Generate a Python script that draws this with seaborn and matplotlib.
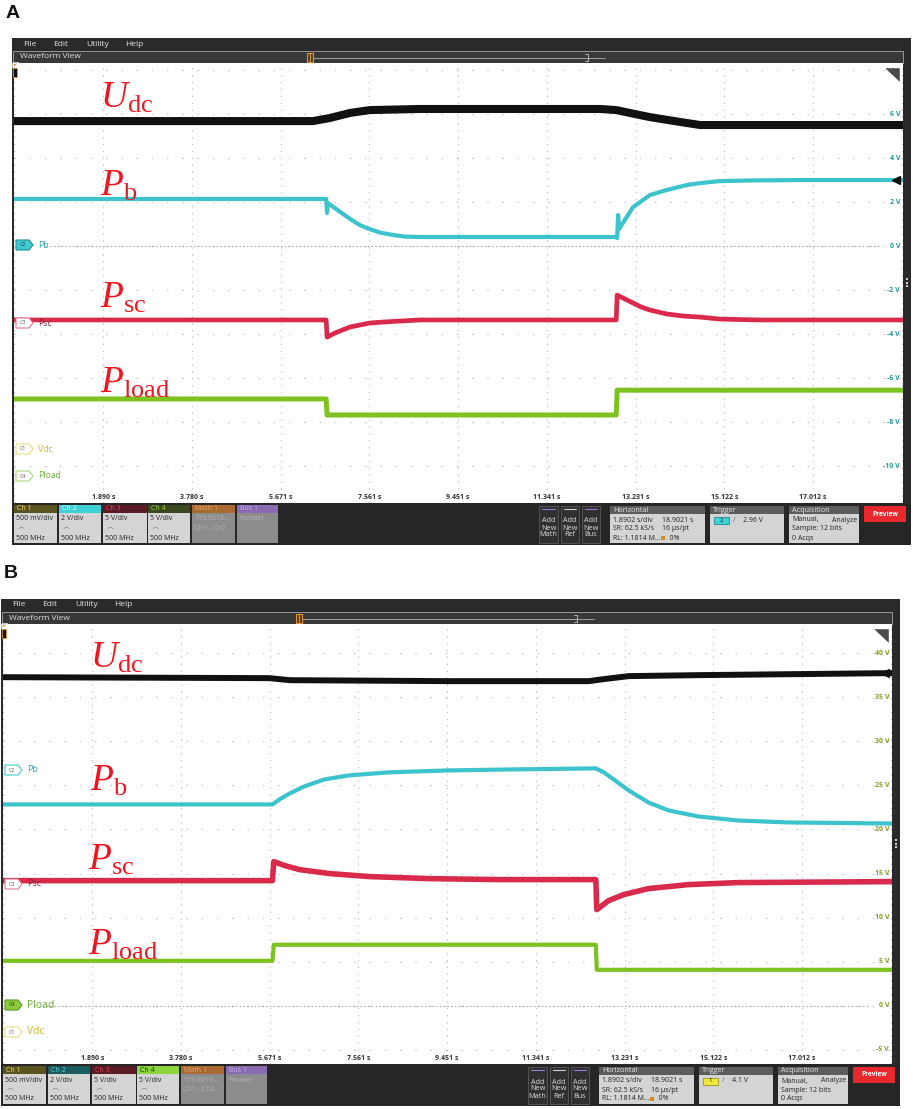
import matplotlib
matplotlib.use("Agg")
import matplotlib.pyplot as plt
import matplotlib.transforms as mtransforms
from matplotlib.patches import Rectangle, Polygon
import seaborn as sns

# ---- values ----
# time in s, values in screen volts of the channel whose scale is on the right
TDIV = 1.8902
time_labels = ['1.890 s', '3.780 s', '5.671 s', '7.561 s', '9.451 s',
               '11.341 s', '13.231 s', '15.122 s', '17.012 s']
a_volt_ticks = [6, 4, 2, 0, -2, -4, -6, -8, -10]
b_volt_ticks = [40, 35, 30, 25, 20, 15, 10, 5, 0, -5]

# panel A
a_udc_t = [0.0, 5.02, 6.36, 6.72, 7.15, 7.57, 8.64, 12.48, 12.82, 13.22, 13.54, 14.18, 14.61, 18.93]
a_udc_v = [5.68, 5.68, 5.68, 5.82, 6.05, 6.18, 6.23, 6.23, 6.18, 6.00, 5.86, 5.64, 5.50, 5.50]
a_pb_t = [0.0, 6.64, 6.66, 6.68, 6.94, 7.15, 7.36, 7.57, 7.79, 8.07, 8.32, 8.64, 12.82, 12.84, 12.86,
          12.88, 13.18, 13.33, 13.54, 13.71, 13.90, 14.07, 14.24, 14.39, 14.61, 14.82, 15.03, 15.67,
          16.74, 18.93]
a_pb_v = [2.14, 2.14, 1.50, 1.95, 1.55, 1.23, 0.95, 0.77, 0.61, 0.50, 0.43, 0.41, 0.41, 0.36, 1.41,
          0.77, 1.77, 2.00, 2.32, 2.43, 2.55, 2.64, 2.73, 2.80, 2.86, 2.91, 2.95, 2.98,
          3.00, 3.00]
a_psc_t = [0.0, 6.64, 6.66, 6.83, 7.15, 7.36, 7.57, 7.89, 8.21, 8.64, 12.82, 12.84, 13.01, 13.18,
           13.35, 13.54, 13.90, 14.24, 14.61, 15.03, 15.88, 18.93]
a_psc_v = [-3.36, -3.36, -4.14, -3.95, -3.68, -3.59, -3.50, -3.45, -3.41, -3.36, -3.36, -2.23, -2.41,
           -2.59, -2.77, -2.91, -3.09, -3.18, -3.23, -3.32, -3.36, -3.36]
a_pload_t = [0.0, 6.64, 6.66, 12.82, 12.84, 18.93]
a_pload_v = [-6.95, -6.95, -7.68, -7.68, -6.55, -6.55]

# panel B
b_udc_t = [0.0, 5.67, 6.10, 9.49, 12.47, 12.79, 13.32, 14.80, 18.93]
b_udc_v = [37.27, 37.16, 36.93, 36.82, 36.82, 37.05, 37.39, 37.50, 37.73]
b_pb_t = [0.0, 5.73, 5.88, 6.10, 6.41, 6.84, 7.37, 8.22, 9.49, 10.98, 12.62, 12.79, 13.00, 13.32,
          13.74, 14.17, 14.80, 15.65, 16.72, 18.93]
b_pb_v = [22.84, 22.84, 23.41, 24.09, 24.89, 25.68, 26.14, 26.48, 26.70, 26.82, 26.93, 26.48, 25.68,
          24.43, 23.07, 22.16, 21.48, 21.02, 20.80, 20.68]
b_psc_t = [0.0, 5.73, 5.76, 5.99, 6.31, 6.95, 7.80, 9.07, 10.56, 12.62, 12.64, 12.89, 13.21, 13.74,
           14.59, 15.65, 18.93]
b_psc_v = [14.20, 14.20, 16.36, 15.91, 15.45, 15.00, 14.66, 14.43, 14.32, 14.32, 10.91, 11.93, 12.61,
           13.30, 13.75, 13.98, 14.09]
b_pload_t = [0.0, 5.73, 5.76, 12.62, 12.64, 18.93]
b_pload_v = [5.11, 5.11, 6.93, 6.93, 4.09, 4.09]

ch_body = [['500 mV/div', r'$\frown$', '500 MHz'], ['2 V/div', r'$\frown$', '500 MHz'],
           ['5 V/div', r'$\frown$', '500 MHz'], ['5 V/div', r'$\frown$', '500 MHz'],
           ['119.9219...', 'Ch1 - Ch2'], ['Parallel']]

sns.set_style('white')
plt.rcParams['font.family'] = ['Open Sans', 'DejaVu Sans']
plt.rcParams['mathtext.fontset'] = 'custom'
plt.rcParams['mathtext.rm'] = 'Liberation Serif'
plt.rcParams['mathtext.it'] = 'Liberation Serif:italic'

W, H = 913, 1109
fig = plt.figure(figsize=(W / 100, H / 100), dpi=100)
bg = fig.add_axes([0, 0, 1, 1], zorder=0, label='bg')
bg.set_xlim(0, W); bg.set_ylim(H, 0); bg.axis('off')
fg = fig.add_axes([0, 0, 1, 1], zorder=5, label='fg')
fg.set_xlim(0, W); fg.set_ylim(H, 0); fg.axis('off')


def rect(ax, x0, y0, x1, y1, fc, ec='none', lw=0.0, z=1):
    ax.add_patch(Rectangle((x0, y0), x1 - x0, y1 - y0, facecolor=fc,
                           edgecolor=ec, linewidth=lw, zorder=z))


def txt(ax, x, y, s, size=5.0, color='#222222', ha='left', va='center', **kw):
    ax.text(x, y, s, fontsize=size, color=color, ha=ha, va=va, **kw)


def badge(x, y, name, label, fc, ec, tc, lc, lsize):
    pts = [(x, y - 5), (x + 13, y - 5), (x + 17, y), (x + 13, y + 5), (x, y + 5)]
    fg.add_patch(Polygon(pts, closed=True, facecolor=fc, edgecolor=ec, linewidth=0.8, zorder=6))
    txt(fg, x + 6.5, y, name, 3.8, tc, ha='center', zorder=7)
    txt(fg, x + 22, y, label, lsize, lc, zorder=7)


panels = [
    dict(tag='A', tag_xy=(6, 18), dx=0, dy=0, ylim=(-11.68, 8.32), vticks=a_volt_ticks,
         vcolor='#2b9494', arrow_v=3.0,
         traces=[(a_udc_t, a_udc_v, '#111111', 5.8), (a_pb_t, a_pb_v, '#3cc3cb', 3.0),
                 (a_psc_t, a_psc_v, '#d92a4c', 3.4), (a_pload_t, a_pload_v, '#7cc31f', 3.6)],
         names=[('U', 'dc', 100, 108), ('P', 'b', 100, 196), ('P', 'sc', 100, 308), ('P', 'load', 100, 393)],
         badges=[('C2', 'Pb', 245, '#3fcad2', '#1f8f95', '#0c3a3c', '#2aa3aa', 6.2),
                 ('C3', 'Psc', 323, '#ffffff', '#e07a92', '#555555', '#7a3040', 6.2),
                 ('C1', 'Vdc', 449, '#ffffff', '#e6de80', '#555555', '#c8b82a', 6.2),
                 ('C4', 'Pload', 476, '#ffffff', '#a8d47a', '#555555', '#6aaf36', 6.2)],
         heads=[('Ch 1', '#5c5420', '#f0e060'), ('Ch 2', '#3fd0d8', '#eaffff'),
                ('Ch 3', '#5a1a26', '#e8405a'), ('Ch 4', '#3a4a1e', '#9ad040'),
                ('Math 1', '#a86a30', '#e8a868'), ('Bus 1', '#8a6ab0', '#c8b0e8')],
         trig=('2', '#3fd0d8', '#1f8f95', '2.96 V')),
    dict(tag='B', tag_xy=(4, 578), dx=-11, dy=561, ylim=(-6.59, 43.3), vticks=b_volt_ticks,
         vcolor='#8a9a26', arrow_v=37.73,
         traces=[(b_udc_t, b_udc_v, '#111111', 4.3), (b_pb_t, b_pb_v, '#3cc3cb', 3.0),
                 (b_psc_t, b_psc_v, '#d92a4c', 4.0), (b_pload_t, b_pload_v, '#7cc31f', 3.0)],
         names=[('U', 'dc', 90, 668), ('P', 'b', 90, 791), ('P', 'sc', 88, 870), ('P', 'load', 88, 955)],
         badges=[('C2', 'Pb', 770, '#ffffff', '#3fcad2', '#555555', '#2aa3aa', 6.5),
                 ('C3', 'Psc', 884, '#ffffff', '#e07a92', '#555555', '#7a3040', 6.5),
                 ('C4', 'Pload', 1005, '#8ccc40', '#5c9a22', '#1c3008', '#6aaf36', 7.5),
                 ('C1', 'Vdc', 1032, '#ffffff', '#e6de80', '#555555', '#c8b82a', 7.5)],
         heads=[('Ch 1', '#5c5420', '#f0e060'), ('Ch 2', '#1f5c5e', '#58d8e0'),
                ('Ch 3', '#5a1a26', '#e8405a'), ('Ch 4', '#8cd43c', '#1c3008'),
                ('Math 1', '#a86a30', '#e8a868'), ('Bus 1', '#8a6ab0', '#c8b0e8')],
         trig=('1', '#f2ea3a', '#9a9420', '4.1 V')),
]

for p in panels:
    dx, dy = p['dx'], p['dy']
    X = lambda x: x + dx
    Y = lambda y: y + dy

    fg.text(p['tag_xy'][0], p['tag_xy'][1], p['tag'], fontsize=14, fontweight='bold',
            family='Liberation Sans', va='baseline', color='#111111')

    # window frame, menu and waveform-view bar
    rect(bg, X(12), Y(38), X(911), Y(545), '#2a2a2a')
    for word, mx in zip(['File', 'Edit', 'Utility', 'Help'], [23, 53, 86, 125]):
        txt(bg, X(mx), Y(44), word, 6, '#e6e6e6', zorder=2)
    rect(bg, X(13), Y(51), X(903), Y(63), '#383838', ec='#bdbdbd', lw=0.5, z=2)
    txt(bg, X(20), Y(57), 'Waveform View', 6, '#e0e0e0', zorder=3)
    bg.plot([X(313), X(605)], [Y(57.5), Y(57.5)], color='#b0b0b0', lw=0.6, zorder=3)
    bg.plot([X(585), X(588), X(588), X(585)], [Y(54), Y(54), Y(61), Y(61)], color='#c8c8c8', lw=0.6, zorder=3)
    rect(bg, X(307), Y(52.5), X(313), Y(61.5), '#5a3a1a', ec='#e8922a', lw=0.8, z=4)
    bg.plot([X(310), X(310)], [Y(54), Y(61)], color='#f0b060', lw=0.6, zorder=5)
    for k in range(3):
        rect(bg, X(906), Y(278 + 3.5 * k), X(908), Y(280 + 3.5 * k), '#cfcfcf', z=2)

    # waveform area
    ax = fig.add_axes([X(14) / W, 1 - Y(503) / H, (903 - 14) / W, (503 - 63) / H], zorder=1)
    ax.set_facecolor('white')
    ax.set_xlim(-0.01, 18.93)
    ax.set_ylim(*p['ylim'])
    for s in ax.spines.values():
        s.set_visible(False)
    vstep = p['vticks'][0] - p['vticks'][1]
    for k in range(11):
        ax.axvline(k * TDIV, color='#bdbdbd', lw=0.8, ls=(0, (1.2, 5)), zorder=0)
    v = p['vticks'][-1] - vstep
    while v <= p['ylim'][1]:
        ax.axhline(v, color='#c4c4c4', lw=0.9, ls=(0, (1.2, 11)), zorder=0)
        v += vstep
    ax.axhline(0, xmin=0.04, xmax=0.975, color='#9a9a9a', lw=0.8, ls=(0, (1.2, 2.2)), zorder=0.5)

    for t, val, c, lw in p['traces']:
        sns.lineplot(x=t, y=val, ax=ax, color=c, lw=lw, estimator=None, sort=False,
                     legend=False, zorder=2)
    ax.set(xlabel='', ylabel='', xticks=[], yticks=[])
    ax.plot([18.78], [p['arrow_v']], marker='<', ms=6, color='#111111', zorder=4, clip_on=False)

    tx = mtransforms.blended_transform_factory(ax.transData, ax.transAxes)
    for k, lab in enumerate(time_labels, start=1):
        ax.text(k * TDIV, 0.012, lab, transform=tx, fontsize=5, ha='center', va='center',
                color='#333333', fontweight='bold', zorder=5)
    ty = mtransforms.blended_transform_factory(ax.transAxes, ax.transData)
    for vt in p['vticks']:
        ax.text(0.9966, vt, f'{vt} V', transform=ty, fontsize=5, ha='right', va='center',
                color=p['vcolor'], fontweight='bold', zorder=5)

    # on-screen decorations
    fg.add_patch(Polygon([(X(13), Y(63)), (X(19), Y(63)), (X(13), Y(68))], facecolor='#e8922a', zorder=6))
    rect(fg, X(13), Y(68), X(17), Y(77), '#111111', ec='#e8922a', lw=0.6, z=6)
    fg.add_patch(Polygon([(X(883), Y(67)), (X(900), Y(67)), (X(900), Y(83))], facecolor='#4a4a4a', zorder=6))
    for name, label, by, fc, ec, tc, lc, ls in p['badges']:
        badge(X(16), by, name, label, fc, ec, tc, lc, ls)
    for main, sub, nx, ny in p['names']:
        fg.text(nx, ny, r'$\mathit{%s}_{\mathrm{%s}}$' % (main, sub), fontsize=27,
                color='#f0141e', va='baseline', ha='left', zorder=8)

    # status bar
    rect(bg, X(12), Y(503), X(911), Y(545), '#262626', z=1)
    boxes = [(14, 57), (59, 101), (103, 147), (148, 190), (192, 235), (237, 278)]
    for (x0, x1), (head, hfc, htc), body in zip(boxes, p['heads'], ch_body):
        gray = head.startswith('Math') or head.startswith('Bus')
        rect(bg, X(x0), Y(505), X(x1), Y(513), hfc, z=2)
        rect(bg, X(x0), Y(513), X(x1), Y(543), '#8c8c8c' if gray else '#d4d4d4', z=2)
        txt(bg, X(x0 + 3), Y(509), head, 5, htc, zorder=3)
        for i, line in enumerate(body):
            txt(bg, X(x0 + 2), Y(519 + 9.5 * i), line, 5, '#b4b4b4' if gray else '#222222', zorder=3)

    for (x0, x1), word, lc in zip([(539, 558), (561, 579), (582, 600)], ['Math', 'Ref', 'Bus'],
                                  ['#9a78d0', '#d0d0d0', '#9a78d0']):
        rect(bg, X(x0), Y(506), X(x1), Y(543), '#303030', ec='#5a5a5a', lw=0.6, z=2)
        bg.plot([X(x0 + 3), X(x1 - 3)], [Y(509), Y(509)], color=lc, lw=0.8, zorder=3)
        bg.text(X((x0 + x1) / 2), Y(528), 'Add\nNew\n' + word, ha='center', va='center',
                fontsize=5.2, color='#dcdcdc', linespacing=1.0, zorder=3)

    for (x0, x1), title in zip([(610, 705), (710, 784), (789, 859)], ['Horizontal', 'Trigger', 'Acquisition']):
        rect(bg, X(x0), Y(506), X(x1), Y(514), '#5c5c5c', z=2)
        rect(bg, X(x0), Y(514), X(x1), Y(543), '#d4d4d4', z=2)
        txt(bg, X(x0 + 3), Y(510), title, 5.2, '#e8e8e8', zorder=3)
    for i, (l, r) in enumerate([('1.8902 s/div', '18.9021 s'), ('SR: 62.5 kS/s', '16 µs/pt'),
                                ('RL: 1.1814 M...', '    0%')]):
        txt(bg, X(613), Y(520 + 9 * i), l, 5, zorder=3)
        txt(bg, X(662), Y(520 + 9 * i), r, 5, zorder=3)
    rect(bg, X(661), Y(535.5), X(665), Y(540), '#d08a2a', z=3)
    tch, tfc, tec, tval = p['trig']
    rect(bg, X(714), Y(516.5), X(729), Y(523.5), tfc, ec=tec, lw=0.6, z=3)
    txt(bg, X(721.5), Y(520), tch, 4.5, '#222222', ha='center', zorder=4)
    txt(bg, X(733), Y(520), '/', 5, '#666666', zorder=3)
    txt(bg, X(743), Y(520), tval, 5, zorder=3)
    txt(bg, X(792), Y(520), 'Manual,', 5, zorder=3)
    txt(bg, X(857), Y(520), 'Analyze', 5, ha='right', zorder=3)
    txt(bg, X(792), Y(529), 'Sample: 12 bits', 5, zorder=3)
    txt(bg, X(792), Y(538), '0 Acqs', 5, zorder=3)
    rect(bg, X(864), Y(506), X(906), Y(522), '#e8282c', z=2)
    txt(bg, X(885), Y(514), 'Preview', 4.8, 'white', ha='center', fontweight='bold', zorder=3)

fig.savefig('out.png', dpi=100)
